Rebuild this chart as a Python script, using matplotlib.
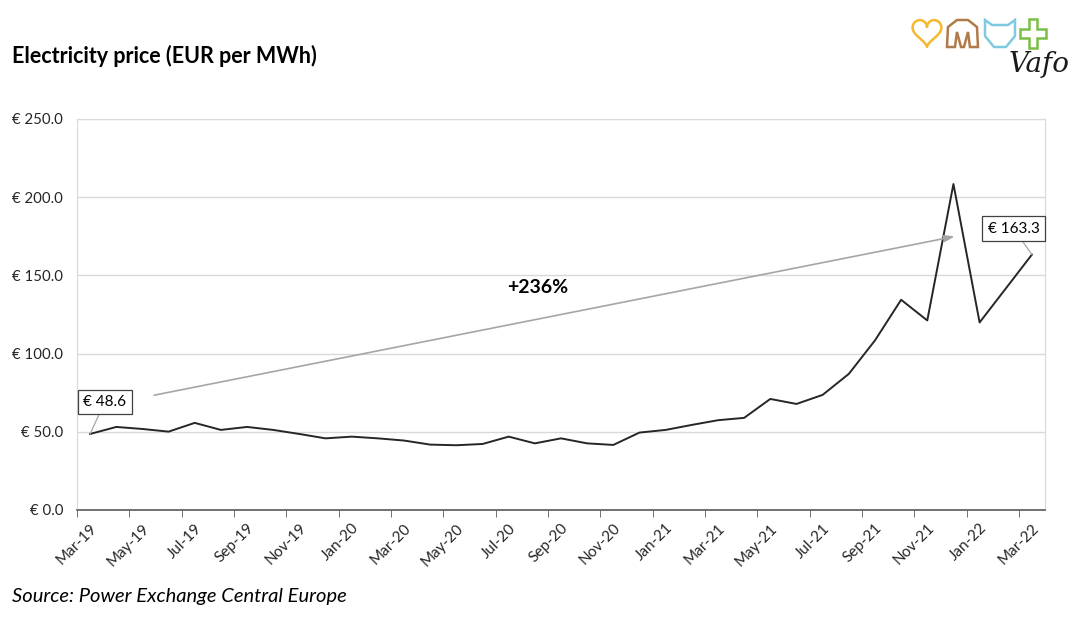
import matplotlib
matplotlib.use("Agg")
import matplotlib.pyplot as plt
from matplotlib.patches import Polygon
import numpy as np

plt.rcParams['font.family'] = ['Lato', 'DejaVu Sans']

# monthly price, Mar-19 .. Mar-22
prices = [48.6, 53.1, 51.8, 50.1, 55.7, 51.2, 53.1, 51.2, 48.6, 45.8,
          46.9, 45.8, 44.4, 41.8, 41.4, 42.2, 46.9, 42.6, 45.8, 42.6,
          41.6, 49.5, 51.2, 54.4, 57.4, 58.9, 71.0, 67.8, 73.6, 87.0,
          108.4, 134.4, 121.2, 208.4, 119.9, 141.6, 163.3]
tick_labels = ["Mar-19", "May-19", "Jul-19", "Sep-19", "Nov-19", "Jan-20",
               "Mar-20", "May-20", "Jul-20", "Sep-20", "Nov-20", "Jan-21",
               "Mar-21", "May-21", "Jul-21", "Sep-21", "Nov-21", "Jan-22",
               "Mar-22"]
y_ticks = [0, 50, 100, 150, 200, 250]
change_label = "+236%"

x = np.arange(len(prices))

fig = plt.figure(figsize=(10.8, 6.19), dpi=100)
ax = fig.add_axes([0.0713, 0.1761, 0.8963, 0.6317])

ax.plot(x, prices, color="#262626", lw=1.4, zorder=3)

ax.set_xlim(-0.5, len(prices) - 0.5)
ax.set_ylim(0, 250)
ax.set_yticks(y_ticks)
ax.set_yticklabels([f"€ {v:.1f}" for v in y_ticks], fontsize=10.8, color="#262626")
ax.yaxis.grid(True, color="#d9d9d9", lw=1)
ax.set_axisbelow(True)
ax.tick_params(axis="y", length=0, pad=10)

# ticks between categories, labels on every 2nd category
ax.set_xticks(np.arange(-0.5, len(prices) - 0.5, 2), minor=True)
ax.set_xticks(x[::2])
ax.set_xticklabels(tick_labels, rotation=45, ha="right", rotation_mode="anchor",
                   fontsize=11, color="#262626")
ax.tick_params(axis="x", which="major", length=0, pad=8)
ax.tick_params(axis="x", which="minor", length=5, color="#595959", direction="out")

for s in ["top", "right", "left"]:
    ax.spines[s].set_color("#d9d9d9")
ax.spines["bottom"].set_color("#595959")
ax.spines["bottom"].set_linewidth(1.2)

# trend arrow
ax.annotate("", xy=(33.05, 174.9), xytext=(2.45, 73.4),
            arrowprops=dict(arrowstyle="-|>,head_length=0.6,head_width=0.2",
                            color="#a6a6a6", lw=1.2, shrinkA=0, shrinkB=0))
ax.text(17.1, 142, change_label, fontsize=14, fontweight="bold",
        ha="center", va="center", color="#000000")

# first and last value labels
box = dict(boxstyle="square,pad=0.35", fc="white", ec="#404040", lw=0.9)
ax.annotate(f"€ {prices[0]:.1f}", xy=(0, prices[0]), xytext=(0.56, 69),
            ha="center", va="center", fontsize=11, bbox=box,
            arrowprops=dict(arrowstyle="-", color="#a6a6a6", lw=0.9,
                            shrinkA=0, shrinkB=0))
ax.annotate(f"€ {prices[-1]:.1f}", xy=(x[-1], prices[-1]), xytext=(35.3, 179.8),
            ha="center", va="center", fontsize=11, bbox=box,
            arrowprops=dict(arrowstyle="-", color="#a6a6a6", lw=0.9,
                            shrinkA=0, shrinkB=0))

fig.text(0.011, 0.909, "Electricity price (EUR per MWh)", fontsize=15.5,
         fontweight="bold", ha="left", va="center", color="#000000")
fig.text(0.011, 0.036, "Source: Power Exchange Central Europe", fontsize=14.5,
         style="italic", ha="left", va="center", color="#000000")

# rough logo in the top right corner (coords are pixels from x=900, y=0)
lg = fig.add_axes([0.8333, 0.8546, 0.1667, 0.1454])
lg.set_xlim(0, 180)
lg.set_ylim(90, 0)
lg.axis("off")
t = np.linspace(0, 2 * np.pi, 100)
hx = 16 * np.sin(t) ** 3
hy = 13 * np.cos(t) - 5 * np.cos(2 * t) - 2 * np.cos(3 * t) - np.cos(4 * t)
lg.plot(27 + hx * 0.9, 31.2 - hy * 0.93, color="#f5b82e", lw=1.8)
lg.add_patch(Polygon([[47, 47], [48, 27], [57, 20], [68, 20], [77, 27], [78, 47],
                      [70, 47], [68, 32], [64, 47], [61, 47], [57, 32], [55, 47]],
                     closed=True, fill=False, ec="#b07a4a", lw=1.8))
lg.add_patch(Polygon([[85, 20], [92, 25], [108, 25], [115, 20], [115, 36],
                      [106, 47], [94, 47], [85, 36]],
                     closed=True, fill=False, ec="#7ecbe0", lw=1.8))
lg.add_patch(Polygon([[129, 19], [137, 19], [137, 29], [146, 29], [146, 38],
                      [137, 38], [137, 48], [129, 48], [129, 38], [120, 38],
                      [120, 29], [129, 29]],
                     closed=True, fill=False, ec="#7bbf45", lw=1.8))
lg.text(139, 64, "Vafo", fontsize=20, style="italic", ha="center", va="center",
        color="#1a1a1a", family="DejaVu Serif")

fig.savefig("out.png", dpi=100)
